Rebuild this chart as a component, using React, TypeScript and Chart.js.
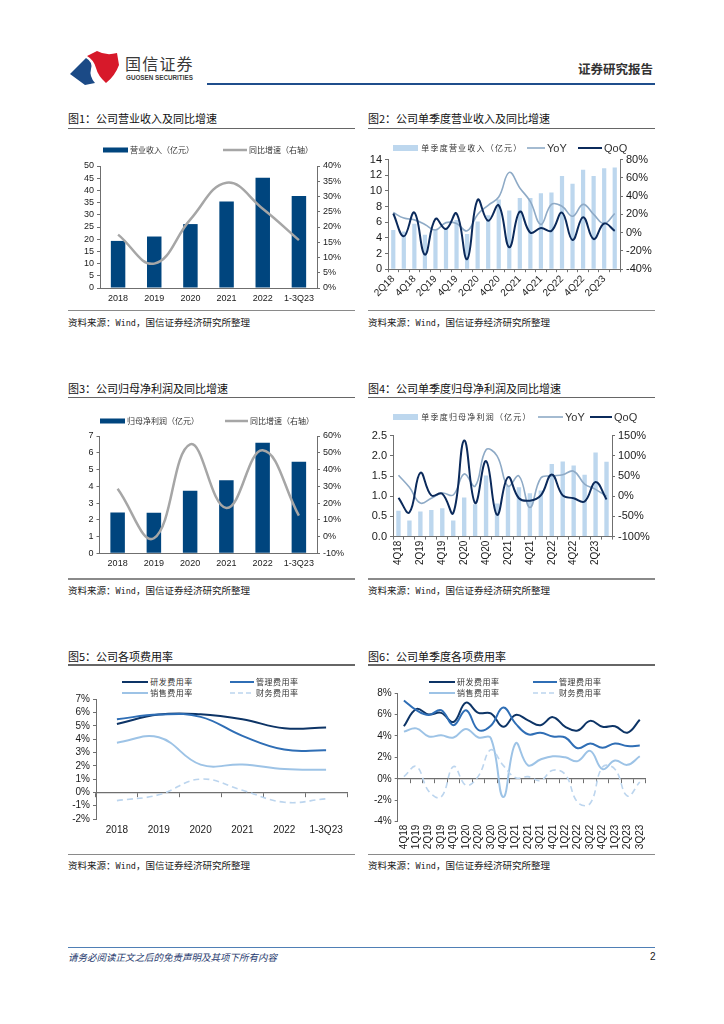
import React, { useEffect, useRef } from 'react';
import { Chart, registerables } from 'chart.js';

Chart.register(...registerables);

const LATIN = "'Liberation Sans', Arial, 'Noto Sans CJK SC', sans-serif";
const CJK = "'Noto Sans CJK SC', 'Liberation Sans', sans-serif";
Chart.defaults.font.family = LATIN;

// ---------------- data ----------------
const annualCats = ['2018', '2019', '2020', '2021', '2022', '1-3Q23'];

// Fig 1
const fig1BarLabel = '营业收入（亿元）';
const fig1LineLabel = '同比增速（右轴）';
const revenue = [19.3, 21.1, 26.2, 35.4, 45.2, 37.7];
const revenueYoY = [17.5, 8.0, 22.5, 34.5, 26.0, 15.7];

// Fig 2
const quarters2 = ['2Q18', '3Q18', '4Q18', '1Q19', '2Q19', '3Q19', '4Q19', '1Q20', '2Q20', '3Q20', '4Q20', '1Q21', '2Q21', '3Q21', '4Q21', '1Q22', '2Q22', '3Q22', '4Q22', '1Q23', '2Q23', '3Q23'];
const fig2BarLabel = '单季度营业收入（亿元）';
const qRevenue = [5.0, 4.8, 5.8, 4.4, 5.1, 5.3, 6.3, 4.5, 6.1, 6.9, 8.9, 7.5, 9.1, 9.1, 9.7, 9.8, 11.9, 10.9, 12.7, 11.9, 12.9, 13.0];
const qRevenueYoY = [22, 16, 14, 9, 3, 11, 10, 2, 20, 30, 39, 66, 49, 34, 9, 31, 29, 18, 31, 20, 10, 21];
const qRevenueQoQ = [21, -4, 22, -24, 15, 4, 21, -29, 36, 13, 30, -16, 23, 0, 5, 2, 22, -8, 17, -7, 10, 2];

// Fig 3
const fig3BarLabel = '归母净利润（亿元）';
const fig3LineLabel = '同比增速（右轴）';
const profit = [2.44, 2.42, 3.73, 4.36, 6.59, 5.47];
const profitYoY = [28.5, -1.0, 55.0, 17.0, 51.5, 12.5];

// Fig 4
const quarters4 = ['4Q18', '1Q19', '2Q19', '3Q19', '4Q19', '1Q20', '2Q20', '3Q20', '4Q20', '1Q21', '2Q21', '3Q21', '4Q21', '1Q22', '2Q22', '3Q22', '4Q22', '1Q23', '2Q23', '3Q23'];
const fig4BarLabel = '单季度归母净利润（亿元）';
const qProfit = [0.64, 0.40, 0.62, 0.66, 0.70, 0.40, 0.97, 0.80, 1.51, 0.82, 1.25, 1.22, 1.07, 1.14, 1.80, 1.86, 1.76, 1.53, 2.08, 1.85];
const qProfitYoY = [52, 22, -17, -5, 8, 3, 55, 25, 115, 100, 25, 50, -28, 45, 50, 53, 62, 30, 17, 0];
const qProfitQoQ = [-4, -40, 58, 2, 6, -42, 138, -17, 87, -46, 47, -5, -11, 2, 54, 2, -5, -13, 35, -8];

// Fig 5 / Fig 6 labels
const rdLabel = '研发费用率';
const adminLabel = '管理费用率';
const salesLabel = '销售费用率';
const finLabel = '财务费用率';

// Fig 5
const rd5 = [5.15, 5.85, 5.87, 5.5, 4.82, 4.88];
const admin5 = [5.5, 5.85, 5.68, 4.25, 3.22, 3.17];
const sales5 = [3.74, 4.14, 2.09, 2.1, 1.76, 1.7];
const fin5 = [-0.62, -0.18, 1.0, 0.16, -0.74, -0.48];

// Fig 6
const quarters6 = ['4Q18', '1Q19', '2Q19', '3Q19', '4Q19', '1Q20', '2Q20', '3Q20', '4Q20', '1Q21', '2Q21', '3Q21', '4Q21', '1Q22', '2Q22', '3Q22', '4Q22', '1Q23', '2Q23', '3Q23'];
const rd6 = [4.9, 6.5, 6.0, 6.15, 5.3, 7.1, 6.15, 6.1, 4.85, 5.95, 5.45, 5.0, 5.75, 4.85, 4.5, 5.4, 4.85, 4.9, 4.3, 5.5];
const admin6 = [7.3, 6.4, 5.95, 6.4, 5.0, 6.4, 4.55, 4.95, 6.65, 5.15, 4.15, 4.3, 3.95, 3.85, 2.85, 3.3, 2.9, 3.3, 3.05, 3.1];
const sales6 = [4.4, 4.7, 3.95, 4.05, 3.85, 4.65, 3.85, 3.8, -1.7, 3.3, 1.25, 1.8, 2.1, 2.0, 1.65, 2.6, 0.9, 1.7, 1.3, 2.1];
const fin6 = [0.2, 1.15, -1.15, -1.7, 1.15, -0.6, 0.25, 2.7, 1.25, 0.1, 0.2, -0.15, 0.8, 0.4, -2.2, -2.3, 1.1, 0.9, -1.6, -0.3];

// ---------------- styles ----------------
const NAVY = '#00457e';
const GRAY_LINE = '#a6a6a6';
const LIGHT_BAR = '#bdd7ee';
const YOY_C = '#8eaac6';
const QOQ_C = '#0b2a5b';
const RD_C = '#0d3466';
const ADMIN_C = '#2f6eb5';
const SALES_C = '#9dc3e6';
const FIN_C = '#bcd5ee';
const AX = '#6f6f6f';
const TXT = '#1a1a1a';

type Box = { left: number; top: number; width: number; height: number };
type Area = { l: number; t: number; r: number; b: number };

function frame(box: Box, area: Area) {
  return {
    padTop: area.t - box.top,
    leftW: area.l - box.left,
    rightW: box.left + box.width - area.r,
    bottomH: box.top + box.height - area.b,
  };
}

function valueAxis(pos: string, min: number, max: number, step: number, width: number, fmt: (v: number) => string, size: number) {
  return {
    type: 'linear',
    position: pos,
    min,
    max,
    ticks: { stepSize: step, autoSkip: false, color: TXT, font: { family: LATIN, size }, padding: 3, callback: (v: any) => fmt(Number(v)) },
    grid: { drawOnChartArea: false, drawTicks: true, tickLength: 3, color: AX, tickColor: AX },
    border: { display: true, color: AX, width: 1 },
    afterFit: (s: any) => { s.width = width; },
  };
}

const pct = (v: number) => `${Math.round(v)}%`;
const int = (v: number) => `${Math.round(v)}`;
const dec1 = (v: number) => v.toFixed(1);

function annualConfig(box: Box, area: Area, bars: number[], line: number[], barLabel: string, lineLabel: string, left: number[], right: number[]) {
  const f = frame(box, area);
  return {
    data: {
      labels: annualCats,
      datasets: [
        { type: 'line', label: lineLabel, data: line, yAxisID: 'y1', borderColor: GRAY_LINE, borderWidth: 2.5, pointRadius: 0, tension: 0.42, order: 0 },
        { type: 'bar', label: barLabel, data: bars, yAxisID: 'y', backgroundColor: NAVY, barPercentage: 0.4, categoryPercentage: 1, order: 1 },
      ],
    },
    options: {
      responsive: true,
      maintainAspectRatio: false,
      animation: false,
      layout: { padding: { top: f.padTop, left: 0, right: 0, bottom: 0 } },
      plugins: { legend: { display: false }, tooltip: { enabled: false } },
      scales: {
        x: {
          type: 'category',
          offset: true,
          grid: { drawOnChartArea: false, drawTicks: false },
          border: { display: true, color: AX },
          ticks: { color: TXT, font: { size: 9 }, padding: 5, maxRotation: 0, autoSkip: false },
          afterFit: (s: any) => { s.height = f.bottomH; },
        },
        y: valueAxis('left', left[0], left[1], left[2], f.leftW, int, 9),
        y1: valueAxis('right', right[0], right[1], right[2], f.rightW, pct, 9),
      },
    },
  };
}

function quarterConfig(box: Box, area: Area, cats: string[], bars: number[], yoy: number[], qoq: number[], barLabel: string, left: number[], right: number[], leftFmt: (v: number) => string, rot: number) {
  const f = frame(box, area);
  return {
    data: {
      labels: cats,
      datasets: [
        { type: 'line', label: 'QoQ', data: qoq, yAxisID: 'y1', borderColor: QOQ_C, borderWidth: 2, pointRadius: 0, tension: 0.42, order: 0 },
        { type: 'line', label: 'YoY', data: yoy, yAxisID: 'y1', borderColor: YOY_C, borderWidth: 1.6, pointRadius: 0, tension: 0.42, order: 1 },
        { type: 'bar', label: barLabel, data: bars, yAxisID: 'y', backgroundColor: LIGHT_BAR, barPercentage: 0.4, categoryPercentage: 1, order: 2 },
      ],
    },
    options: {
      responsive: true,
      maintainAspectRatio: false,
      animation: false,
      layout: { padding: { top: f.padTop, left: 0, right: 0, bottom: 0 } },
      plugins: { legend: { display: false }, tooltip: { enabled: false } },
      scales: {
        x: {
          type: 'category',
          offset: true,
          grid: { drawOnChartArea: false, drawTicks: true, tickLength: 3, color: AX, offset: true },
          border: { display: true, color: AX },
          ticks: {
            color: TXT,
            font: { size: 10 },
            padding: 1,
            minRotation: rot,
            maxRotation: rot,
            autoSkip: false,
            callback: (_v: any, i: number) => (i % 2 === 0 ? cats[i] : ''),
          },
          afterFit: (s: any) => { s.height = f.bottomH; },
        },
        y: valueAxis('left', left[0], left[1], left[2], f.leftW, leftFmt, 11),
        y1: valueAxis('right', right[0], right[1], right[2], f.rightW, pct, 11),
      },
    },
  };
}

function expenseConfig(box: Box, area: Area, cats: string[], rd: number[], admin: number[], sales: number[], fin: number[], yr: number[], rot: number, xFont: number) {
  const f = frame(box, area);
  const line = (label: string, data: number[], color: string, width: number, dash?: number[]) => ({
    type: 'line', label, data, borderColor: color, backgroundColor: color, borderWidth: width, borderDash: dash || [], pointRadius: 0, tension: 0.42, fill: false,
  });
  return {
    data: {
      labels: cats,
      datasets: [
        line(finLabel, fin, FIN_C, 1.6, [6, 4]),
        line(salesLabel, sales, SALES_C, 2),
        line(adminLabel, admin, ADMIN_C, 2),
        line(rdLabel, rd, RD_C, 2),
      ],
    },
    options: {
      responsive: true,
      maintainAspectRatio: false,
      animation: false,
      layout: { padding: { top: f.padTop, left: 0, right: f.rightW, bottom: 0 } },
      plugins: { legend: { display: false }, tooltip: { enabled: false } },
      scales: {
        x: {
          type: 'category',
          offset: true,
          grid: { display: false, drawTicks: false },
          border: { display: false },
          ticks: { color: TXT, font: { size: xFont }, padding: rot ? 3 : 5, minRotation: rot, maxRotation: rot, autoSkip: false },
          afterFit: (s: any) => { s.height = f.bottomH; },
        },
        x2: {
          type: 'category',
          offset: true,
          position: { y: 0 },
          ticks: { display: false },
          grid: { drawOnChartArea: false, drawTicks: true, tickLength: 4, color: AX, tickColor: AX, offset: true },
          border: { display: true, color: AX, width: 1.2 },
        },
        y: valueAxis('left', yr[0], yr[1], yr[2], f.leftW, pct, 10),
      },
    },
  };
}

// ---------------- components ----------------
function ChartBox({ box, make }: { box: Box; make: () => any }) {
  const ref = useRef<HTMLCanvasElement | null>(null);
  useEffect(() => {
    if (!ref.current) return;
    const chart = new Chart(ref.current, make());
    return () => chart.destroy();
  }, []);
  return (
    <div style={{ position: 'absolute', left: box.left, top: box.top, width: box.width, height: box.height }}>
      <canvas ref={ref} />
    </div>
  );
}

type LegProps = {
  x: number; y: number; kind: 'bar' | 'line' | 'dash'; color: string; symW: number; symH: number;
  text: string; size: number; spacing?: number; family?: string; gap?: number;
};
function LegendItem({ x, y, kind, color, symW, symH, text, size, spacing = 0, family = CJK, gap = 2 }: LegProps) {
  return (
    <div style={{ position: 'absolute', left: x, top: y - 8, height: 16, display: 'flex', alignItems: 'center', whiteSpace: 'nowrap', zIndex: 2 }}>
      <svg width={symW} height={16} style={{ display: 'block' }}>
        {kind === 'bar' ? (
          <rect x={0} y={8 - symH / 2} width={symW} height={symH} fill={color} />
        ) : (
          <line x1={0} x2={symW} y1={8} y2={8} stroke={color} strokeWidth={symH} strokeDasharray={kind === 'dash' ? '5 3' : undefined} />
        )}
      </svg>
      <span style={{ marginLeft: gap, fontSize: size, letterSpacing: spacing, fontFamily: family, color: '#333', lineHeight: '16px' }}>{text}</span>
    </div>
  );
}

function Frame({ x, titleY, ruleY, srcRuleY, srcY, title }: { x: number; titleY: number; ruleY: number; srcRuleY: number; srcY: number; title: string }) {
  return (
    <>
      <div style={{ position: 'absolute', left: x, top: titleY - 8, height: 16, lineHeight: '16px', fontSize: 11, fontFamily: CJK, color: '#111', whiteSpace: 'nowrap' }}>{title}</div>
      <div style={{ position: 'absolute', left: x, top: ruleY - 0.75, width: 287, height: 1.5, background: '#666' }} />
      <div style={{ position: 'absolute', left: x, top: srcRuleY - 0.75, width: 287, height: 1.5, background: '#8a8a8a' }} />
      <div style={{ position: 'absolute', left: x, top: srcY - 8, height: 16, lineHeight: '16px', fontSize: 9.5, fontFamily: CJK, color: '#222', whiteSpace: 'nowrap' }}>
        资料来源：<span style={{ fontFamily: "'DejaVu Sans Mono', monospace", fontSize: 8.5 }}>Wind</span>，国信证券经济研究所整理
      </div>
    </>
  );
}

const box1: Box = { left: 68, top: 156, width: 287, height: 152 };
const area1: Area = { l: 100, t: 166, r: 317, b: 288 };
const box2: Box = { left: 368, top: 150, width: 287, height: 158 };
const area2: Area = { l: 388, t: 159.3, r: 620, b: 269.2 };
const box3: Box = { left: 68, top: 426, width: 287, height: 150 };
const area3: Area = { l: 99.5, t: 436, r: 317, b: 553.3 };
const box4: Box = { left: 368, top: 426, width: 287, height: 150 };
const area4: Area = { l: 393, t: 435.6, r: 612, b: 536.6 };
const box5: Box = { left: 68, top: 690, width: 287, height: 152 };
const area5: Area = { l: 96, t: 699.3, r: 347, b: 819 };
const box6: Box = { left: 368, top: 684, width: 287, height: 168 };
const area6: Area = { l: 397.7, t: 692.3, r: 646, b: 821.7 };

export default function App() {
  return (
    <div style={{ position: 'absolute', left: 0, top: 0, width: 724, height: 1024, background: '#fff', overflow: 'hidden' }}>
      {/* header */}
      <svg style={{ position: 'absolute', left: 68, top: 50 }} width={54} height={36} viewBox="0 0 54 36">
        <path d="M2 24 L18 8 Q25 12 23 19 Q21 26 27 33 L17 35 Z" fill="#1b4a86" />
        <path d="M19 6 L29 1 Q38 6 49 3 L51 15 Q47 26 38 33 Q30 26 28 18 Q26 10 19 6 Z" fill="#d7192a" />
      </svg>
      <div style={{ position: 'absolute', left: 125, top: 53, fontSize: 16, letterSpacing: 1.2, fontFamily: CJK, color: '#3a3a3a', lineHeight: '20px', whiteSpace: 'nowrap' }}>国信证券</div>
      <div style={{ position: 'absolute', left: 126, top: 74, fontSize: 6.3, fontWeight: 700, fontFamily: LATIN, color: '#3a3a3a', lineHeight: '8px', whiteSpace: 'nowrap' }}>GUOSEN SECURITIES</div>
      <div style={{ position: 'absolute', left: 578, top: 60, fontSize: 12.5, fontWeight: 700, fontFamily: CJK, color: '#333', lineHeight: '18px', whiteSpace: 'nowrap' }}>证券研究报告</div>
      <div style={{ position: 'absolute', left: 207, top: 82.5, width: 448, height: 2.5, background: '#1f4e8c' }} />

      {/* frames */}
      <Frame x={68} titleY={118} ruleY={128.3} srcRuleY={310.7} srcY={322} title="图1：公司营业收入及同比增速" />
      <Frame x={368} titleY={118} ruleY={128.3} srcRuleY={310.7} srcY={322} title="图2：公司单季度营业收入及同比增速" />
      <Frame x={68} titleY={388} ruleY={397.3} srcRuleY={579} srcY={590} title="图3：公司归母净利润及同比增速" />
      <Frame x={368} titleY={388} ruleY={397.3} srcRuleY={579} srcY={590} title="图4：公司单季度归母净利润及同比增速" />
      <Frame x={68} titleY={656} ruleY={665} srcRuleY={854.3} srcY={865} title="图5：公司各项费用率" />
      <Frame x={368} titleY={656} ruleY={665} srcRuleY={854.3} srcY={865} title="图6：公司单季度各项费用率" />

      {/* charts */}
      <ChartBox box={box1} make={() => annualConfig(box1, area1, revenue, revenueYoY, fig1BarLabel, fig1LineLabel, [0, 50, 5], [0, 40, 5])} />
      <ChartBox box={box2} make={() => quarterConfig(box2, area2, quarters2, qRevenue, qRevenueYoY, qRevenueQoQ, fig2BarLabel, [0, 14, 2], [-40, 80, 20], int, 45)} />
      <ChartBox box={box3} make={() => annualConfig(box3, area3, profit, profitYoY, fig3BarLabel, fig3LineLabel, [0, 7, 1], [-10, 60, 10])} />
      <ChartBox box={box4} make={() => quarterConfig(box4, area4, quarters4, qProfit, qProfitYoY, qProfitQoQ, fig4BarLabel, [0, 2.5, 0.5], [-100, 150, 50], dec1, 90)} />
      <ChartBox box={box5} make={() => expenseConfig(box5, area5, annualCats, rd5, admin5, sales5, fin5, [-2, 7, 1], 0, 10)} />
      <ChartBox box={box6} make={() => expenseConfig(box6, area6, quarters6, rd6, admin6, sales6, fin6, [-4, 8, 2], 90, 10)} />

      {/* legends */}
      <LegendItem x={103} y={150} kind="bar" color={NAVY} symW={25} symH={5} text={fig1BarLabel} size={8} />
      <LegendItem x={223} y={150} kind="line" color={GRAY_LINE} symW={24} symH={2.5} text={fig1LineLabel} size={8} />
      <LegendItem x={100} y={420.7} kind="bar" color={NAVY} symW={25} symH={5} text={fig3BarLabel} size={8} />
      <LegendItem x={225} y={420.7} kind="line" color={GRAY_LINE} symW={23} symH={2.5} text={fig3LineLabel} size={8} />

      <LegendItem x={392.7} y={148.3} kind="bar" color={LIGHT_BAR} symW={25.6} symH={6} text={fig2BarLabel} size={8} spacing={1.2} gap={3} />
      <LegendItem x={527} y={148.3} kind="line" color={YOY_C} symW={18} symH={1.6} text="YoY" size={11} family={LATIN} />
      <LegendItem x={578} y={148.3} kind="line" color={QOQ_C} symW={24} symH={2} text="QoQ" size={11} family={LATIN} />
      <LegendItem x={392.7} y={416.7} kind="bar" color={LIGHT_BAR} symW={25.6} symH={6} text={fig4BarLabel} size={8} spacing={1.2} gap={3} />
      <LegendItem x={538} y={416.7} kind="line" color={YOY_C} symW={25} symH={1.6} text="YoY" size={11} family={LATIN} />
      <LegendItem x={590} y={416.7} kind="line" color={QOQ_C} symW={22} symH={2} text="QoQ" size={11} family={LATIN} />

      <LegendItem x={121.7} y={681.7} kind="line" color={RD_C} symW={26.6} symH={2} text={rdLabel} size={8} spacing={0.5} />
      <LegendItem x={230} y={681.7} kind="line" color={ADMIN_C} symW={24} symH={2} text={adminLabel} size={8} spacing={0.5} />
      <LegendItem x={121.7} y={693.3} kind="line" color={SALES_C} symW={26.6} symH={2} text={salesLabel} size={8} spacing={0.5} />
      <LegendItem x={230} y={693.3} kind="dash" color={FIN_C} symW={24} symH={1.6} text={finLabel} size={8} spacing={0.5} />
      <LegendItem x={429} y={681.7} kind="line" color={RD_C} symW={26} symH={2} text={rdLabel} size={8} spacing={0.5} />
      <LegendItem x={533} y={681.7} kind="line" color={ADMIN_C} symW={24} symH={2} text={adminLabel} size={8} spacing={0.5} />
      <LegendItem x={429} y={693.3} kind="line" color={SALES_C} symW={26} symH={2} text={salesLabel} size={8} spacing={0.5} />
      <LegendItem x={533} y={693.3} kind="dash" color={FIN_C} symW={24} symH={1.6} text={finLabel} size={8} spacing={0.5} />

      {/* footer */}
      <div style={{ position: 'absolute', left: 68, top: 947, width: 587, height: 1.2, background: '#4f7fb5' }} />
      <div style={{ position: 'absolute', left: 68, top: 950, fontSize: 9.5, fontStyle: 'italic', fontFamily: CJK, color: '#1f3a6e', lineHeight: '14px', whiteSpace: 'nowrap' }}>请务必阅读正文之后的免责声明及其项下所有内容</div>
      <div style={{ position: 'absolute', left: 650, top: 950, fontSize: 10, fontFamily: LATIN, color: '#222', lineHeight: '14px' }}>2</div>
    </div>
  );
}
